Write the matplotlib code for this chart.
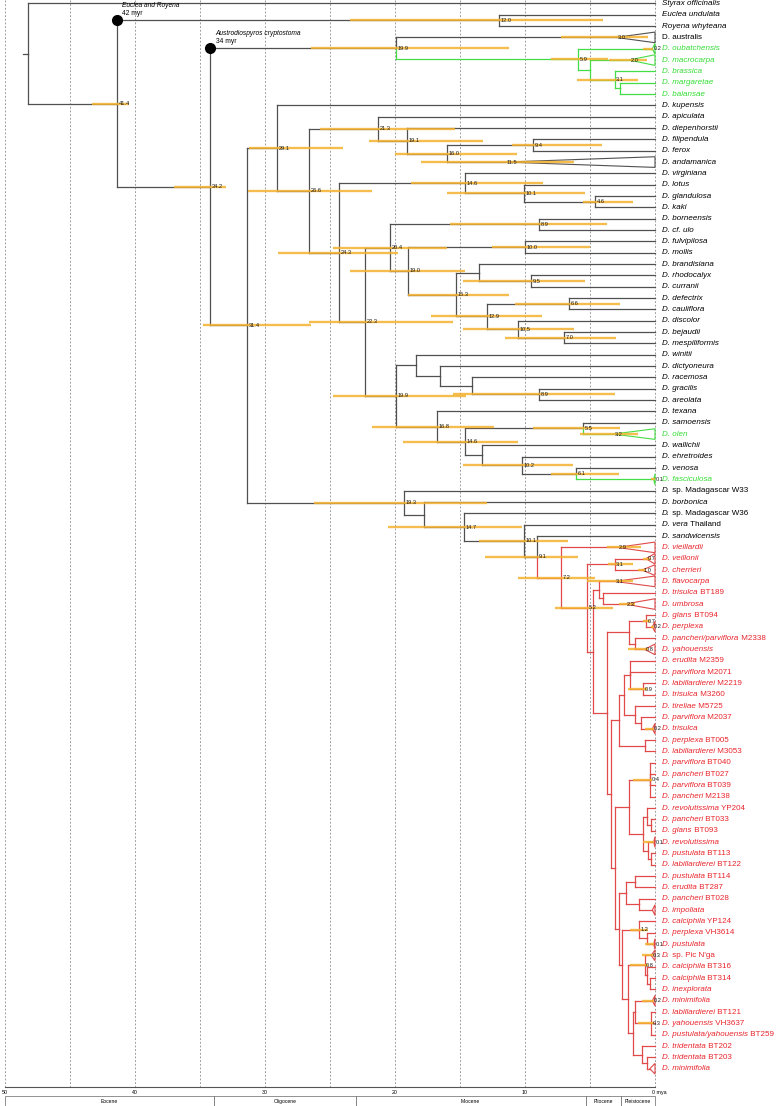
import matplotlib.pyplot as plt
from matplotlib.patches import Rectangle, Polygon

plt.rcParams['font.family'] = ['Liberation Sans', 'DejaVu Sans']

# leaves, top to bottom. text before "|" is italic, after it upright
leaf_labels = [
    "Styrax officinalis|", "Euclea undulata|", "Royena whyteana|", "|D. australis",
    "D. oubatchensis|", "D. macrocarpa|", "D. brassica|", "D. margaretae|", "D. balansae|",
    "D. kupensis|", "D. apiculata|", "D. diepenhorstii|", "D. filipendula|", "D. ferox|",
    "D. andamanica|", "D. virginiana|", "D. lotus|", "D. glandulosa|", "D. kaki|",
    "D. borneensis|", "D. cf. ulo|", "D. fulvipilosa|", "D. mollis|", "D. brandisiana|",
    "D. rhodocalyx|", "D. curranii|", "D. defectrix|", "D. cauliflora|", "D. discolor|",
    "D. bejaudii|", "D. mespiliformis|", "D. winitii|", "D. dictyoneura|", "D. racemosa|",
    "D. gracilis|", "D. areolata|", "D. texana|", "D. samoensis|", "D. olen|",
    "D. wallichii|", "D. ehretroides|", "D. venosa|", "D. fasciculosa|",
    "D.| sp. Madagascar W33", "D. borbonica|", "D.| sp. Madagascar W36", "D. vera| Thailand",
    "D. sandwicensis|", "D. vieillardii|", "D. veillonii|", "D. cherrieri|", "D. flavocarpa|",
    "D. trisulca| BT189", "D. umbrosa|", "D. glans| BT094", "D. perplexa|",
    "D. pancheri/parviflora| M2338", "D. yahouensis|", "D. erudita| M2359",
    "D. parviflora| M2071", "D. labillardierei| M2219", "D. trisulca| M3260",
    "D. tireliae| M5725", "D. parviflora| M2037", "D. trisulca|", "D. perplexa| BT005",
    "D. labillardierei| M3053", "D. parviflora| BT040", "D. pancheri| BT027",
    "D. parviflora| BT039", "D. pancheri| M2138", "D. revolutissima| YP204",
    "D. pancheri| BT033", "D. glans| BT093", "D. revolutissima|", "D. pustulata| BT113",
    "D. labillardierei| BT122", "D. pustulata| BT114", "D. erudita| BT287",
    "D. pancheri| BT028", "D. impoliata|", "D. calciphila| YP124", "D. perplexa| VH3614",
    "D. pustulata|", "D.| sp. Pic N'ga", "D. calciphila| BT316", "D. calciphila| BT314",
    "D. inexplorata|", "D. minimifolia|", "D. labillardierei| BT121",
    "D. yahouensis| VH3637", "D. pustulata/yahouensis| BT259", "D. tridentata| BT202",
    "D. tridentata| BT203", "D. minimifolia|",
]

leaf_parent = [
    "root", "n120", "n120", "n199a", "n59", "n50g", "n31g", "n27g", "n27g",
    "n291", "n213", "n191", "n94", "n94", "n160", "n146a", "n101a", "n46", "n46",
    "n89a", "n89a", "n100", "n100", "n135", "n95", "n95", "n66", "n66", "n105",
    "n70", "n70", "n184", "n165", "n141", "n89b", "n89b", "n168", "n55", "n55",
    "n133", "n102", "n61", "n61", "n193", "n178", "n147", "n101b", "n91",
    "n72", "n31r", "n31r", "n43", "n40", "n40",
    "n07", "n07", "n15", "n15", "nN1", "nN1", "n09", "n09", "nN3", "nN2", "nN2",
    "nP", "nP", "n04", "n04", "n04", "n04", "nR1", "nR11", "nR11", "nR2",
    "nR21", "nR21", "nS1", "nS1", "nS2", "nS2", "n12", "nT1", "nT1", "n08",
    "nU2", "nU3", "nU3", "nV1", "n03", "n03", "n03", "nV2", "nV3", "nV3",
]

# k = outgroup/other, g = green clade, r = New Caledonian (red) clade
leaf_color = (["k"] * 4 + ["g"] * 5 + ["k"] * 29 + ["g"] + ["k"] * 3 + ["g"]
              + ["k"] * 5 + ["r"] * 47)

# internal nodes: name, parent, age (myr), 95% HPD (old, young), age label shown
nodes = [
    ("root", None, 48.2, None, None, False),
    ("n414", "root", 41.4, 43.3, 40.5, True),
    ("n120", "n414", 12.0, 23.5, 4.0, True),
    ("n342", "n414", 34.2, 37.0, 33.0, True),
    ("n199a", "n342", 19.9, 26.5, 11.2, True),
    ("n59", "n199a", 5.9, 8.0, 3.6, True),
    ("n50g", "n59", 5.0, None, None, False),
    ("n31g", "n50g", 3.1, 6.0, 1.3, True),
    ("n27g", "n31g", 2.7, None, None, False),
    ("n314", "n342", 31.4, 34.8, 26.5, True),
    ("n291", "n314", 29.1, 31.2, 24.0, True),
    ("n266", "n291", 26.6, 31.3, 21.8, True),
    ("n213", "n266", 21.3, 25.8, 15.4, True),
    ("n191", "n213", 19.1, 22.0, 13.2, True),
    ("n160", "n191", 16.0, 20.0, 10.6, True),
    ("n94", "n160", 9.4, 11.0, 4.1, True),
    ("n243", "n266", 24.3, 29.0, 19.8, True),
    ("n146a", "n243", 14.6, 18.8, 8.6, True),
    ("n101a", "n146a", 10.1, 16.0, 5.4, True),
    ("n46", "n101a", 4.6, 5.5, 1.7, True),
    ("n223", "n243", 22.3, 26.6, 15.5, True),
    ("n204", "n223", 20.4, 24.8, 16.0, True),
    ("n89a", "n204", 8.9, 15.8, 3.7, True),
    ("n190", "n204", 19.0, 23.5, 14.6, True),
    ("n100", "n190", 10.0, 12.5, 5.0, True),
    ("n153", "n190", 15.3, 19.0, 11.2, True),
    ("n135", "n153", 13.5, None, None, False),
    ("n95", "n135", 9.5, 14.8, 5.4, True),
    ("n129", "n153", 12.9, 17.2, 8.7, True),
    ("n66", "n129", 6.6, 10.8, 2.7, True),
    ("n105", "n129", 10.5, 14.8, 6.2, True),
    ("n70", "n105", 7.0, 11.5, 3.0, True),
    ("n199b", "n223", 19.9, 24.8, 14.5, True),
    ("n184", "n199b", 18.4, None, None, False),
    ("n165", "n184", 16.5, None, None, False),
    ("n141", "n165", 14.1, None, None, False),
    ("n89b", "n141", 8.9, 15.5, 3.1, True),
    ("n168", "n199b", 16.8, 21.8, 12.4, True),
    ("n146b", "n168", 14.6, 19.4, 10.5, True),
    ("n55", "n146b", 5.5, 9.4, 2.7, True),
    ("n133", "n146b", 13.3, None, None, False),
    ("n102", "n133", 10.2, 14.8, 6.3, True),
    ("n61", "n102", 6.1, 8.0, 2.8, True),
    ("n193", "n314", 19.3, 26.2, 12.9, True),
    ("n178", "n193", 17.8, None, None, False),
    ("n147", "n178", 14.7, 20.5, 10.2, True),
    ("n101b", "n147", 10.1, 13.5, 6.7, True),
    ("n91", "n101b", 9.1, 13.1, 5.9, True),
    ("n72", "n91", 7.2, 10.5, 4.6, True),
    ("n52", "n72", 5.2, 7.7, 3.2, True),
    ("n31r", "n52", 3.1, 3.6, 1.7, True),
    ("n48", "n52", 4.8, None, None, False),
    ("n43", "n48", 4.3, None, None, False),
    ("n40", "n43", 4.0, None, None, False),
    ("n37", "n48", 3.7, None, None, False),
    ("nA1", "n37", 2.0, None, None, False),
    ("n07", "nA1", 0.7, 0.9, 0.4, True),
    ("n15", "nA1", 1.5, None, None, False),
    ("nA2", "n37", 3.4, None, None, False),
    ("nB1", "nA2", 2.8, None, None, False),
    ("nN4", "nB1", 2.4, None, None, False),
    ("nN1", "nN4", 1.9, None, None, False),
    ("n09", "nN1", 0.9, 2.1, 0.6, True),
    ("nN3", "nN4", 1.5, None, None, False),
    ("nN2", "nN3", 1.1, None, None, False),
    ("nP", "nB1", 0.8, None, None, False),
    ("nB2", "nA2", 3.1, None, None, False),
    ("nC1", "nB2", 2.0, None, None, False),
    ("n04", "nC1", 0.4, 1.7, 0.2, True),
    ("nR", "nC1", 0.9, None, None, False),
    ("nR1", "nR", 0.6, None, None, False),
    ("nR11", "nR1", 0.3, None, None, False),
    ("nR2", "nR", 0.5, None, None, False),
    ("nR21", "nR2", 0.3, None, None, False),
    ("nC2", "nB2", 2.8, None, None, False),
    ("nS", "nC2", 2.2, None, None, False),
    ("nS1", "nS", 1.5, None, None, False),
    ("nS2", "nS", 1.2, None, None, False),
    ("nT", "nC2", 2.5, None, None, False),
    ("n12", "nT", 1.2, 1.9, 0.5, True),
    ("nT1", "n12", 0.6, None, None, False),
    ("nU", "nT", 2.1, None, None, False),
    ("n08", "nU", 0.8, 1.9, 0.5, True),
    ("nU2", "n08", 0.6, None, None, False),
    ("nU3", "nU2", 0.4, None, None, False),
    ("nV", "nU", 1.7, None, None, False),
    ("nV1", "nV", 1.5, None, None, False),
    ("n03", "nV1", 0.3, 1.3, 0.1, True),
    ("nV2", "nV", 1.0, None, None, False),
    ("nV3", "nV2", 0.6, None, None, False),
]

# collapsed clades (triangles): leaf index -> crown age, HPD old, HPD young, label
collapsed = {
    3: (3.0, 7.2, 0.5, True), 4: (0.2, 0.9, 0.15, True), 5: (2.0, 3.5, 0.6, True),
    14: (11.5, 18.0, 6.2, True), 38: (3.2, 5.8, 1.3, True), 42: (0.1, 0.3, 0.0, True),
    48: (2.9, 3.7, 1.1, True), 49: (0.7, 0.9, 0.3, True), 50: (1.0, 1.3, 0.7, True),
    51: (3.1, 5.2, 1.7, True), 53: (2.3, 2.8, 1.5, True), 55: (0.2, 0.3, 0.05, True),
    57: (0.8, 2.1, 0.5, True), 64: (0.2, 0.8, 0.1, True), 74: (0.1, 0.9, 0.1, True),
    80: (0.2, None, None, False), 83: (0.1, 0.8, 0.05, True), 84: (0.3, 1.0, 0.1, True),
    88: (0.2, 1.0, 0.1, True), 94: (0.4, None, None, False),
}

epoch_names = ["Eocene", "Oligocene", "Miocene", "Pliocene", "Pleistocene"]
epoch_bounds = [50.0, 33.9, 23.03, 5.33, 2.58, 0.0]
tick_ages = [50, 40, 30, 20, 10, 0]
tick_labels = ["50", "40", "30", "20", "10", "0 mya"]

assert len(leaf_labels) == len(leaf_parent) == len(leaf_color)

text_col = {"k": "black", "g": "#33dd33", "r": "#e8242b"}
line_col = {"k": "#505050", "g": "#45dd45", "r": "#e04a4a"}
hpd_col = "#f4b22e"

# tree layout
info = {n[0]: n for n in nodes}
children = {n[0]: [] for n in nodes}
for n in nodes:
    if n[1] is not None:
        children[n[1]].append(("n", n[0]))
for i, p in enumerate(leaf_parent):
    children[p].append(("l", i))

ypos = {}
cols = {}


def layout(name):
    ys, cs = [], set()
    for kind, key in children[name]:
        if kind == "l":
            ys.append(key)
            cs.add(leaf_color[key])
        else:
            layout(key)
            ys.append(ypos[key])
            cs.add(cols[key])
    ypos[name] = (min(ys) + max(ys)) / 2
    cols[name] = cs.pop() if len(cs) == 1 else "k"


layout("root")

fig = plt.figure(figsize=(7.77, 11.06), dpi=100)
ax = fig.add_axes([0, 0, 1, 1])
ax.set_xlim(50.385, -9.385)
ax.set_ylim(97.29, -0.3)
ax.axis('off')

axis_y = 95.62

# dashed time grid
for a in range(0, 51, 5):
    ax.plot([a, a], [-0.3, axis_y], color='#8c8c8c', lw=0.6,
            linestyle=(0, (2.2, 2.2)), zorder=0)

bars = []
labels = []
tri_h = 0.47
for name, parent, age, lo, hi, show in nodes:
    py = ypos[name]
    for kind, key in children[name]:
        if kind == "l":
            cy = key
            col = line_col[leaf_color[key]]
            if key in collapsed:
                cage, clo, chi, cshow = collapsed[key]
                ax.plot([age, cage], [cy, cy], color=col, lw=0.9, zorder=2)
                ax.add_patch(Polygon([(cage, cy), (0, cy - tri_h), (0, cy + tri_h)],
                                     closed=True, fill=False, edgecolor=col,
                                     lw=0.8, zorder=2))
                if clo is not None:
                    bars.append((clo, chi, cy))
                if cshow:
                    labels.append((cage, cy, cage))
            else:
                ax.plot([age, 0], [cy, cy], color=col, lw=0.9, zorder=2)
        else:
            cy = ypos[key]
            col = line_col[cols[key]]
            ax.plot([age, info[key][2]], [cy, cy], color=col, lw=0.9, zorder=2)
        ax.plot([age, age], [py, cy], color=col, lw=0.9, zorder=2)
    if lo is not None:
        bars.append((lo, hi, py))
    if show:
        labels.append((age, py, age))

# root stem
ax.plot([48.2 + 0.45, 48.2], [ypos["root"]] * 2, color=line_col["k"], lw=0.9)

for lo, hi, y in bars:
    ax.plot([lo, hi], [y, y], color=hpd_col, lw=1.7, alpha=0.85,
            solid_capstyle='butt', zorder=3)

for x, y, val in labels:
    ax.text(x - 0.12, y, f"{val:.1f}", fontsize=4.1, color='#1a1a1a',
            ha='left', va='center', zorder=4)

# tip labels
for i, lab in enumerate(leaf_labels):
    ital, plain = lab.split("|")
    c = text_col[leaf_color[i]]
    if ital:
        t = ax.text(-0.55, i, ital, style='italic', fontsize=5.8, color=c,
                    ha='left', va='center')
        if plain:
            ax.annotate(plain, xy=(1, 0), xycoords=t, ha='left', va='bottom',
                        fontsize=5.8, color=c)
    else:
        ax.text(-0.55, i, plain, fontsize=5.8, color=c, ha='left', va='center')

# fossil calibrations
cal_nodes = [("n414", "n120", "Euclea and Royena\n42 myr"),
             ("n342", "n199a", "Austrodiospyros cryptostoma\n34 myr")]
for pn, cn, txt in cal_nodes:
    cx, cy = info[pn][2], ypos[cn]
    ax.plot(cx, cy, 'o', color='black', ms=7, zorder=5)
    first, second = txt.split("\n")
    ax.text(cx - 0.4, cy - 1.3, first, style='italic', fontsize=4.8,
            ha='left', va='center')
    ax.text(cx - 0.4, cy - 0.6, second, fontsize=4.8, ha='left', va='center')

# time axis
ax.plot([50, 0], [axis_y, axis_y], color='#555555', lw=0.8)
for a, lab in zip(tick_ages, tick_labels):
    if a == 0:
        ax.text(a + 0.2, axis_y + 0.45, lab, fontsize=3.8, ha='left', va='center')
    else:
        ax.text(a, axis_y + 0.45, lab, fontsize=3.8, ha='center', va='center')

for nm, a0, a1 in zip(epoch_names, epoch_bounds[:-1], epoch_bounds[1:]):
    ax.add_patch(Rectangle((a1, 96.45), a0 - a1, 0.8, facecolor='white',
                           edgecolor='#666666', lw=0.5))
    ax.text((a0 + a1) / 2, 96.87, nm, fontsize=3.6, ha='center', va='center')

fig.savefig('out.png', dpi=100)
